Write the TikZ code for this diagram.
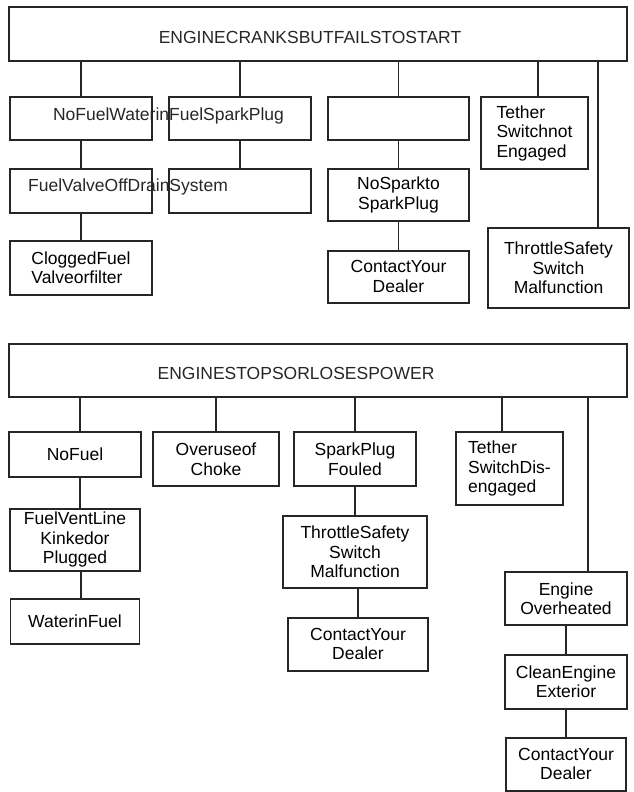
\documentclass[tikz,border=0pt]{standalone}
\usepackage{fontspec}
\setmainfont{Liberation Sans}
\usepackage{tikz}
\usetikzlibrary{positioning}
\newcommand{\boxfont}{\fontsize{17.5}{19.5}\selectfont}

\begin{document}
\begin{tikzpicture}[
        x=1pt, y=-1pt,
        box/.style={rectangle, draw=black!85, line width=1.8pt, inner sep=0pt, minimum width=142pt, minimum height=43pt, align=center, font=\boxfont},
        words/.style={inner sep=0pt, align=center, font=\boxfont, text=black!85},
        link/.style={line width=1.8pt, draw=black!85}
    ]
        \useasboundingbox (0,0) rectangle (634,792);

        % engine cranks but fails to start
        \node[box, minimum width=618pt, minimum height=54pt] (crank) at (318,34) {};
        \node[words] (crankT) at (310,37) {ENGINECRANKSBUTFAILSTOSTART};

        \node[box] (a1) at (81,118.5) {};
        \node[box] (b1) at (240,118.5) {};
        \node[box, minimum width=141pt] (c1) at (398.5,118.5) {};
        \node[box, minimum width=107pt, minimum height=72pt, align=left] (d1) at (534.5,133) {Tether\\Switchnot\\Engaged};
        \node[box, minimum width=141pt, minimum height=80pt] (e1) at (558.5,268) {ThrottleSafety\\Switch\\Malfunction};

        \node[box, minimum height=44pt, below=27pt of a1] (a2) {};
        \node[box, minimum height=54pt, below=26pt of a2, align=left] (a3) {CloggedFuel\\Valveorfilter};
        \node[box, minimum height=44pt, below=27pt of b1] (b2) {};
        \node[box, minimum width=141pt, minimum height=52pt, below=27pt of c1] (c2) {NoSparkto\\SparkPlug};
        \node[box, minimum width=141pt, minimum height=52pt, below=28pt of c2] (c3) {ContactYour\\Dealer};

        \node[words] (rowOneT) at (168.5,116) {NoFuelWaterinFuelSparkPlug};
        \node[words] (rowTwoT) at (128,187) {FuelValveOffDrainSystem};

        \draw[link] (a1.north) -- (a1.north |- crank.south);
        \draw[link] (b1.north) -- (b1.north |- crank.south);
        \draw[link] (c1.north) -- (c1.north |- crank.south);
        \draw[link] ([xshift=3.5pt]d1.north) -- ([xshift=3.5pt]d1.north |- crank.south);
        \draw[link] ([xshift=39.5pt]e1.north) -- ([xshift=39.5pt]e1.north |- crank.south);
        \draw[link] (a1) -- (a2);
        \draw[link] (a2) -- (a3);
        \draw[link] (b1) -- (b2);
        \draw[link] (c1) -- (c2);
        \draw[link] (c2) -- (c3);

        % engine stops or loses power
        \node[box, minimum width=618pt, minimum height=53pt] (stop) at (318,370.5) {};
        \node[words] (stopT) at (296,373) {ENGINESTOPSORLOSESPOWER};

        \node[box, minimum width=132pt, minimum height=45pt] (f1) at (75,454.5) {NoFuel};
        \node[box, minimum width=126pt, minimum height=54pt] (g1) at (216,459) {Overuseof\\Choke};
        \node[box, minimum width=122pt, minimum height=54pt] (h1) at (355,459) {SparkPlug\\Fouled};
        \node[box, minimum width=107pt, minimum height=73pt, align=left] (i1) at (509.5,468.5) {Tether\\SwitchDis-\\engaged};
        \node[box, minimum width=122pt, minimum height=53pt] (j1) at (566,598.5) {Engine\\Overheated};

        \node[box, minimum width=130pt, minimum height=62pt, below=30pt of f1] (f2) {FuelVentLine\\Kinkedor\\Plugged};
        \node[box, minimum width=129pt, minimum height=45pt, below=26pt of f2] (f3) {WaterinFuel};
        \node[box, minimum width=144pt, minimum height=72pt, below=28pt of h1] (h2) {ThrottleSafety\\Switch\\Malfunction};
        \node[box, minimum width=140pt, minimum height=53pt, below=28pt of h2, xshift=3pt] (h3) {ContactYour\\Dealer};
        \node[box, minimum width=122pt, minimum height=54pt, below=28pt of j1] (j2) {CleanEngine\\Exterior};
        \node[box, minimum width=120pt, minimum height=53pt, below=27pt of j2] (j3) {ContactYour\\Dealer};

        \draw[link] ([xshift=5pt]f1.north) -- ([xshift=5pt]f1.north |- stop.south);
        \draw[link] (g1.north) -- (g1.north |- stop.south);
        \draw[link] (h1.north) -- (h1.north |- stop.south);
        \draw[link] ([xshift=-7.5pt]i1.north) -- ([xshift=-7.5pt]i1.north |- stop.south);
        \draw[link] ([xshift=22pt]j1.north) -- ([xshift=22pt]j1.north |- stop.south);
        \draw[link] ([xshift=5pt]f2.north) -- ([xshift=5pt]f2.north |- f1.south);
        \draw[link] ([xshift=6pt]f3.north) -- ([xshift=6pt]f3.north |- f2.south);
        \draw[link] (h2.north -| h1.south) -- (h1.south);
        \draw[link] (h3.north) -- (h3.north |- h2.south);
        \draw[link] (j1) -- (j2);
        \draw[link] (j2) -- (j3);
    \end{tikzpicture}
\end{document}
